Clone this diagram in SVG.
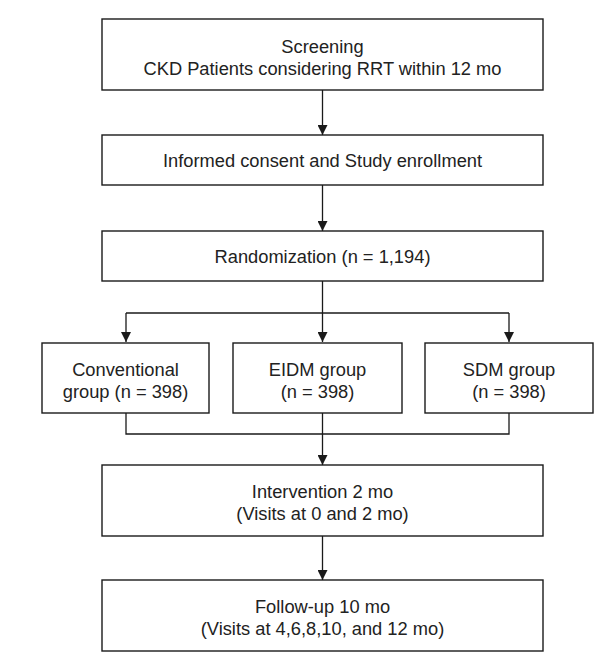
<svg xmlns="http://www.w3.org/2000/svg" width="602" height="658" viewBox="0 0 602 658">
<style>
.box{fill:#fff;stroke:#1a1a1a;stroke-width:1.4}
.t{font-family:"Liberation Sans",Arial,sans-serif;font-size:18.3px;fill:#222;text-anchor:middle}
.c{fill:none;stroke:#1a1a1a;stroke-width:1.3}
</style>
<defs>
<marker id="ah" viewBox="0 0 10 10" refX="10" refY="5" markerWidth="10" markerHeight="10" markerUnits="userSpaceOnUse" orient="auto">
<path d="M0,0 L10,5 L0,10 z" fill="#1a1a1a"/>
</marker>
</defs>
<rect width="602" height="658" fill="#fff"/>
<g id="connectors">
<line class="c" x1="322.5" y1="90" x2="322.5" y2="135" marker-end="url(#ah)"/>
<line class="c" x1="322.5" y1="185" x2="322.5" y2="231" marker-end="url(#ah)"/>
<line class="c" x1="322.5" y1="281" x2="322.5" y2="342" marker-end="url(#ah)"/>
<line class="c" x1="126" y1="313" x2="509" y2="313"/>
<line class="c" x1="126" y1="313" x2="126" y2="342" marker-end="url(#ah)"/>
<line class="c" x1="509" y1="313" x2="509" y2="342" marker-end="url(#ah)"/>
<polyline class="c" points="126,413 126,434 509,434 509,413"/>
<line class="c" x1="322.5" y1="413" x2="322.5" y2="465" marker-end="url(#ah)"/>
<line class="c" x1="322.5" y1="536" x2="322.5" y2="580" marker-end="url(#ah)"/>
</g>
<g id="screening">
<rect class="box" x="102" y="19" width="441" height="71"/>
<text class="t" x="322.5" y="53">Screening</text>
<text class="t" x="322.5" y="75">CKD Patients considering RRT within 12 mo</text>
</g>
<g id="consent">
<rect class="box" x="102" y="135" width="441" height="50"/>
<text class="t" x="322.5" y="167">Informed consent and Study enrollment</text>
</g>
<g id="randomization">
<rect class="box" x="102" y="231" width="441" height="50"/>
<text class="t" x="322.5" y="263">Randomization (n = 1,194)</text>
</g>
<g id="conventional">
<rect class="box" x="42" y="343" width="167" height="70"/>
<text class="t" x="125.5" y="376">Conventional</text>
<text class="t" x="125.5" y="398">group (n = 398)</text>
</g>
<g id="eidm">
<rect class="box" x="233" y="343" width="169" height="70"/>
<text class="t" x="317.5" y="376">EIDM group</text>
<text class="t" x="317.5" y="398">(n = 398)</text>
</g>
<g id="sdm">
<rect class="box" x="425" y="343" width="168" height="70"/>
<text class="t" x="509" y="376">SDM group</text>
<text class="t" x="509" y="398">(n = 398)</text>
</g>
<g id="intervention">
<rect class="box" x="102" y="465" width="441" height="71"/>
<text class="t" x="322.5" y="498">Intervention 2 mo</text>
<text class="t" x="322.5" y="520">(Visits at 0 and 2 mo)</text>
</g>
<g id="followup">
<rect class="box" x="102" y="580" width="441" height="71"/>
<text class="t" x="322.5" y="613">Follow-up 10 mo</text>
<text class="t" x="322.5" y="635">(Visits at 4,6,8,10, and 12 mo)</text>
</g>
</svg>
